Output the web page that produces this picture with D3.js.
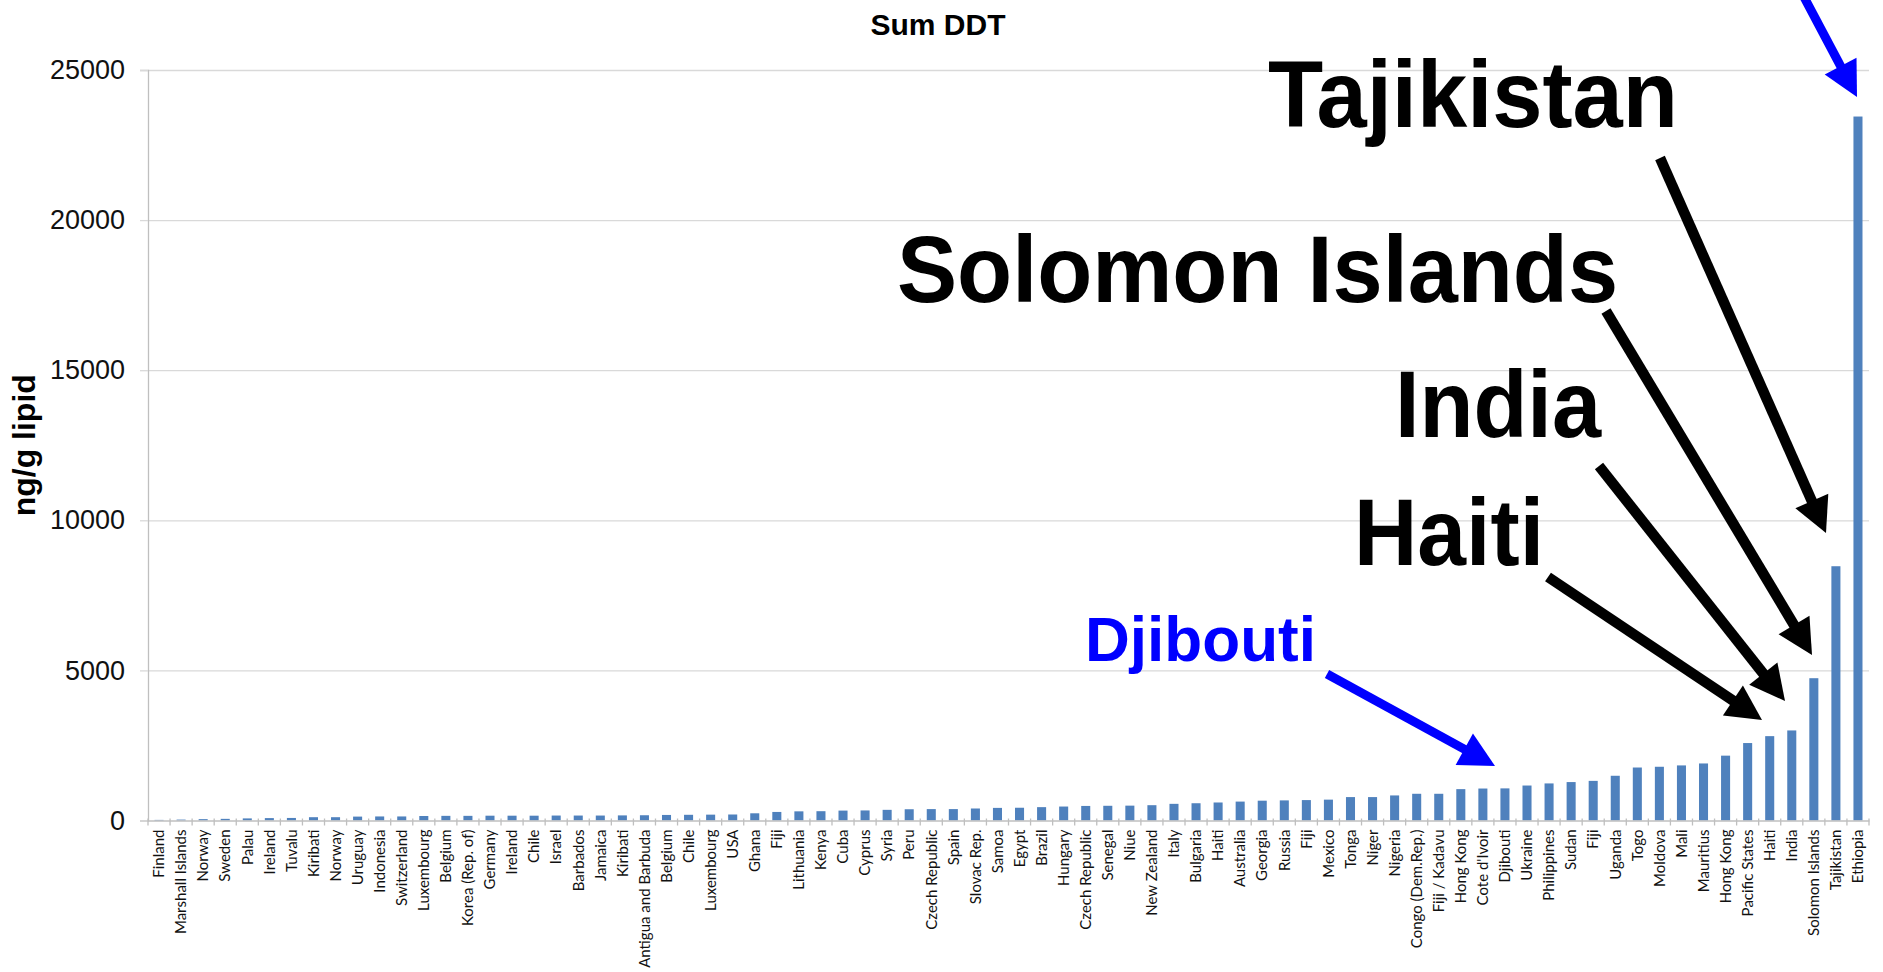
<!DOCTYPE html>
<html>
<head>
<meta charset="utf-8">
<script src="https://cdn.jsdelivr.net/npm/d3@7"></script>
<style>
  body { margin: 0; background: #fff; }
  svg { display: block; }
</style>
</head>
<body>
<div id="chart"></div>
<script>
// samples, sorted ascending (ng/g lipid)
const countries = ["Finland","Marshall Islands","Norway","Sweden","Palau","Ireland","Tuvalu","Kiribati","Norway","Uruguay",
  "Indonesia","Switzerland","Luxembourg","Belgium","Korea (Rep. of)","Germany","Ireland","Chile","Israel","Barbados",
  "Jamaica","Kiribati","Antigua and Barbuda","Belgium","Chile","Luxembourg","USA","Ghana","Fiji","Lithuania",
  "Kenya","Cuba","Cyprus","Syria","Peru","Czech Republic","Spain","Slovac Rep.","Samoa","Egypt",
  "Brazil","Hungary","Czech Republic","Senegal","Niue","New Zealand","Italy","Bulgaria","Haiti","Australia",
  "Georgia","Russia","Fiji","Mexico","Tonga","Niger","Nigeria","Congo (Dem.Rep.)","Fiji / Kadavu","Hong Kong",
  "Cote d'Ivoir","Djibouti","Ukraine","Philippines","Sudan","Fiji","Uganda","Togo","Moldova","Mali",
  "Mauritius","Hong Kong","Pacific States","Haiti","India","Solomon Islands","Tajikistan","Ethiopia"];

const sumDDT = [20,30,45,55,70,80,85,110,110,130,
  135,135,150,155,155,160,160,160,165,165,
  165,170,175,185,190,195,200,240,285,305,
  310,330,335,355,375,380,380,400,420,425,
  445,465,485,490,495,510,555,575,600,630,
  660,670,680,695,780,780,835,890,890,1045,
  1065,1070,1165,1235,1280,1320,1490,1765,1790,1835,
  1900,2160,2580,2810,3000,4740,8470,23450];

const yTicks = [0, 5000, 10000, 15000, 20000, 25000];

// overlaid callouts (drawn on top of the chart, page coords)
const notes = [
  {text: "Tajikistan", x: 1268, y: 127, size: 94, len: 410, color: "#000"},
  {text: "Solomon Islands", x: 897, y: 302, size: 94, len: 721, color: "#000"},
  {text: "India", x: 1395, y: 437, size: 94, len: 206, color: "#000"},
  {text: "Haiti", x: 1354, y: 565, size: 94, len: 190, color: "#000"},
  {text: "Djibouti", x: 1085, y: 661, size: 63, len: 231, color: "#0000ff"}
];
const arrows = [
  {from: [1795, -20], to: [1857, 97], color: "#0000ff", w: 9},
  {from: [1660, 158], to: [1826, 533], color: "#000", w: 10.5},
  {from: [1606, 311], to: [1812, 655], color: "#000", w: 10.5},
  {from: [1599, 466], to: [1785, 701], color: "#000", w: 10.5},
  {from: [1548, 577], to: [1762, 720], color: "#000", w: 10.5},
  {from: [1327, 674], to: [1495, 766], color: "#0000ff", w: 9}
];

const width = 1883, height = 972;
const margin = {top: 70, right: 14, bottom: 151.5, left: 148};

const svg = d3.select("#chart").append("svg")
  .attr("width", width)
  .attr("height", height);

const x = d3.scaleBand()
  .domain(d3.range(countries.length))
  .range([margin.left, width - margin.right])
  .paddingInner(0.59)
  .paddingOuter(0.295);

const y = d3.scaleLinear()
  .domain([0, 25000])
  .range([height - margin.bottom, margin.top]);

// gridlines
svg.append("g")
  .attr("transform", `translate(${margin.left},0)`)
  .call(d3.axisLeft(y).tickValues(yTicks.slice(1)).tickSize(-(width - margin.left - margin.right)).tickFormat(""))
  .call(g => g.select(".domain").remove())
  .call(g => g.selectAll("line").attr("stroke", "#d9d9d9").attr("stroke-width", 1.3));

// y axis
svg.append("g")
  .attr("transform", `translate(${margin.left},0)`)
  .call(d3.axisLeft(y).tickValues(yTicks).tickSize(8).tickPadding(15).tickFormat(d3.format("d")))
  .call(g => g.select(".domain").attr("stroke", "#bfbfbf").attr("stroke-width", 1.3))
  .call(g => g.selectAll("line").attr("stroke", "#d9d9d9").attr("stroke-width", 1.3))
  .call(g => g.selectAll("text")
    .attr("font-family", "'Liberation Sans', Arial, sans-serif")
    .attr("font-size", 27)
    .attr("fill", "#111"));

// bars
svg.append("g")
  .selectAll("rect")
  .data(sumDDT)
  .join("rect")
  .attr("x", (d, i) => x(i))
  .attr("y", d => y(d))
  .attr("width", x.bandwidth())
  .attr("height", d => y(0) - y(d))
  .attr("fill", "#4f81bd");

// x axis
const xAxis = svg.append("g")
  .attr("transform", `translate(0,${y(0)})`)
  .call(d3.axisBottom(x).tickSize(0).tickFormat(i => countries[i]))
  .call(g => g.select(".domain").attr("stroke", "#bfbfbf").attr("stroke-width", 1.3));

xAxis.selectAll("text")
  .attr("transform", "rotate(-90)")
  .attr("text-anchor", "end")
  .attr("x", -9)
  .attr("y", 0)
  .attr("dy", "0.35em")
  .attr("font-family", "Lato, 'Open Sans', sans-serif")
  .attr("font-size", 15)
  .attr("fill", "#111");

// category boundary ticks
xAxis.append("g")
  .selectAll("line")
  .data(d3.range(countries.length + 1))
  .join("line")
  .attr("x1", i => x.range()[0] + i * x.step())
  .attr("x2", i => x.range()[0] + i * x.step())
  .attr("y1", -2)
  .attr("y2", 5)
  .attr("stroke", "#bfbfbf")
  .attr("stroke-width", 1.3);

// title
svg.append("text")
  .attr("x", 938)
  .attr("y", 35)
  .attr("text-anchor", "middle")
  .attr("font-family", "'Liberation Sans', Arial, sans-serif")
  .attr("font-weight", "bold")
  .attr("font-size", 30)
  .text("Sum DDT");

// y label
svg.append("text")
  .attr("transform", `translate(35,${(y(0) + y(25000)) / 2}) rotate(-90)`)
  .attr("text-anchor", "middle")
  .attr("font-family", "'Liberation Sans', Arial, sans-serif")
  .attr("font-weight", "bold")
  .attr("font-size", 32)
  .text("ng/g lipid");

// callout arrows
const arrowG = svg.append("g");
arrows.forEach(a => {
  const [x0, y0] = a.from, [x1, y1] = a.to;
  const len = Math.hypot(x1 - x0, y1 - y0);
  const ux = (x1 - x0) / len, uy = (y1 - y0) / len;
  const headLen = 35, headW = 36;
  const bx = x1 - ux * headLen, by = y1 - uy * headLen;
  arrowG.append("line")
    .attr("x1", x0).attr("y1", y0)
    .attr("x2", bx + ux * 2).attr("y2", by + uy * 2)
    .attr("stroke", a.color)
    .attr("stroke-width", a.w);
  arrowG.append("path")
    .attr("d", `M${x1},${y1}L${bx - uy * headW / 2},${by + ux * headW / 2}L${bx + uy * headW / 2},${by - ux * headW / 2}Z`)
    .attr("fill", a.color);
});

// callout labels
svg.append("g")
  .selectAll("text")
  .data(notes)
  .join("text")
  .attr("x", d => d.x)
  .attr("y", d => d.y)
  .attr("font-family", "'Liberation Sans', Arial, sans-serif")
  .attr("font-weight", "bold")
  .attr("font-size", d => d.size)
  .attr("textLength", d => d.len)
  .attr("lengthAdjust", "spacingAndGlyphs")
  .attr("fill", d => d.color)
  .text(d => d.text);
</script>
</body>
</html>
